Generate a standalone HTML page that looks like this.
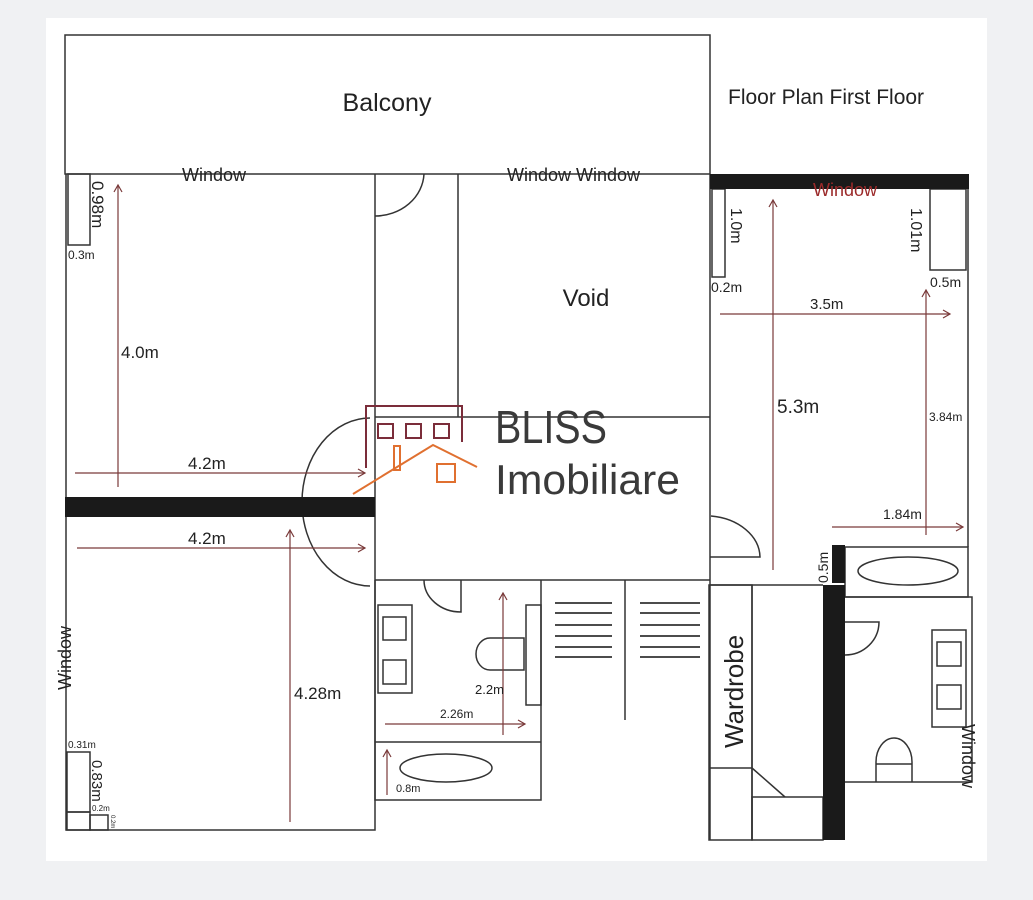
<!DOCTYPE html>
<html><head><meta charset="utf-8"><style>
html,body{margin:0;padding:0;background:#f0f1f3;}
svg{display:block;}
text{font-family:"Liberation Sans",sans-serif;}
</style></head><body>
<svg width="1033" height="900" viewBox="0 0 1033 900" xmlns="http://www.w3.org/2000/svg">
<defs>
<marker id="ah" markerWidth="10" markerHeight="10" refX="8" refY="5" orient="auto" markerUnits="userSpaceOnUse">
<path d="M1,1 L8,5 L1,9" fill="none" stroke="#7a3a3a" stroke-width="1.2"/>
</marker>
</defs>
<rect x="0" y="0" width="1033" height="900" fill="#f0f1f3"/>
<rect x="46" y="18" width="941" height="843" fill="#fff"/>
<g fill="none" stroke="#333" stroke-width="1.5">
<!-- balcony -->
<rect x="65" y="35" width="645" height="139"/>
<!-- left top room -->
<path d="M66,174 V830 H375 V174"/>
<rect x="68" y="174" width="22" height="71"/>
<line x1="458" y1="174" x2="458" y2="417"/>
<line x1="375" y1="417" x2="710" y2="417"/>
<line x1="375" y1="580" x2="710" y2="580"/>
<path d="M424,174 A49,44 0 0 1 375,216"/>
<path d="M370,418 A68,84 0 0 0 370,586"/>
<!-- bottom left small rects -->
<rect x="67" y="752" width="23" height="60"/>
<rect x="67" y="812" width="23" height="18"/>
<rect x="90" y="815" width="18" height="15"/>
<!-- bathroom 1 -->
<path d="M375,580 V800 H541 V580"/>
<path d="M424,580 A37,32 0 0 0 461,612 V580"/>
<rect x="378" y="605" width="34" height="88"/>
<rect x="383" y="617" width="23" height="23"/>
<rect x="383" y="660" width="23" height="24"/>
<rect x="526" y="605" width="15" height="100"/>
<path d="M508,638 H490 A14,16 0 0 0 490,670 H524 V638 Z"/>
<line x1="375" y1="742" x2="541" y2="742"/>
<ellipse cx="446" cy="768" rx="46" ry="14"/>
<!-- stairs -->
<g stroke-width="1.8">
<line x1="555" y1="603" x2="612" y2="603"/><line x1="555" y1="613" x2="612" y2="613"/><line x1="555" y1="625" x2="612" y2="625"/><line x1="555" y1="636" x2="612" y2="636"/><line x1="555" y1="647" x2="612" y2="647"/><line x1="555" y1="657" x2="612" y2="657"/>
<line x1="640" y1="603" x2="700" y2="603"/><line x1="640" y1="613" x2="700" y2="613"/><line x1="640" y1="625" x2="700" y2="625"/><line x1="640" y1="636" x2="700" y2="636"/><line x1="640" y1="647" x2="700" y2="647"/><line x1="640" y1="657" x2="700" y2="657"/>
</g>
<line x1="625" y1="580" x2="625" y2="720"/>
<!-- right room -->
<line x1="710" y1="174" x2="710" y2="840"/>
<line x1="968" y1="189" x2="968" y2="547"/>
<rect x="712" y="189" width="13" height="88"/>
<rect x="930" y="189" width="36" height="81"/>
<path d="M711,516 A55,42 0 0 1 760,557 H710"/>
<line x1="710" y1="585" x2="823" y2="585"/>
<!-- wardrobe -->
<rect x="709" y="585" width="43" height="255"/>
<line x1="752" y1="585" x2="752" y2="840"/>
<line x1="709" y1="768" x2="752" y2="768"/>
<line x1="752" y1="768" x2="785" y2="797"/>
<rect x="752" y="797" width="71" height="43"/>
<!-- bathroom 2 -->
<rect x="845" y="547" width="123" height="50"/>
<ellipse cx="908" cy="571" rx="50" ry="14"/>
<path d="M845,597 H972 V782 H845"/>
<path d="M845,622 H879 A34,33 0 0 1 845,655"/>
<rect x="932" y="630" width="34" height="97"/>
<rect x="937" y="642" width="24" height="24"/>
<rect x="937" y="685" width="24" height="24"/>
<path d="M876,782 V762 A18,24 0 0 1 912,762 V782"/>
<line x1="876" y1="764" x2="912" y2="764"/>
</g>
<!-- black walls -->
<rect x="65" y="497" width="310" height="20" fill="#1a1a1a"/>
<rect x="710" y="174" width="259" height="15" fill="#1a1a1a"/>
<rect x="832" y="545" width="13" height="38" fill="#1a1a1a"/>
<rect x="823" y="585" width="22" height="255" fill="#1a1a1a"/>
<!-- dimension arrows -->
<g stroke="#7a3a3a" stroke-width="1.2" fill="none" marker-end="url(#ah)">
<line x1="118" y1="487" x2="118" y2="185"/>
<line x1="75" y1="473" x2="365" y2="473"/>
<line x1="77" y1="548" x2="365" y2="548"/>
<line x1="290" y1="822" x2="290" y2="530"/>
<line x1="503" y1="735" x2="503" y2="593"/>
<line x1="385" y1="724" x2="525" y2="724"/>
<line x1="387" y1="795" x2="387" y2="750"/>
<line x1="773" y1="570" x2="773" y2="200"/>
<line x1="720" y1="314" x2="950" y2="314"/>
<line x1="926" y1="535" x2="926" y2="290"/>
<line x1="832" y1="527" x2="963" y2="527"/>
</g>
<!-- logo -->
<g fill="none" stroke="#7b2d3a" stroke-width="2">
<path d="M366,468 V406 H462 V442"/>
<rect x="378" y="424" width="15" height="14"/>
<rect x="406" y="424" width="15" height="14"/>
<rect x="434" y="424" width="15" height="14"/>
</g>
<g fill="none" stroke="#e07030" stroke-width="2">
<path d="M353,494 L433,445 L477,467"/>
<rect x="394" y="446" width="6" height="24"/>
<rect x="437" y="464" width="18" height="18"/>
</g>
<text x="495" y="443" font-size="46" fill="#3a3a3a" font-weight="300" textLength="112" lengthAdjust="spacingAndGlyphs">BLISS</text>
<text x="495" y="494" font-size="42" fill="#3a3a3a" textLength="185" lengthAdjust="spacingAndGlyphs">Imobiliare</text>
<!-- labels -->
<g fill="#222">
<text x="387" y="111" font-size="25" text-anchor="middle">Balcony</text>
<text x="728" y="104" font-size="21">Floor Plan First Floor</text>
<text x="214" y="181" font-size="18" text-anchor="middle">Window</text>
<text x="507" y="181" font-size="18">Window Window</text>
<text x="586" y="306" font-size="24" text-anchor="middle">Void</text>
<text x="121" y="358" font-size="17">4.0m</text>
<text x="188" y="469" font-size="17">4.2m</text>
<text x="188" y="544" font-size="17">4.2m</text>
<text x="294" y="699" font-size="17">4.28m</text>
<text x="68" y="259" font-size="12">0.3m</text>
<text transform="translate(92,181) rotate(90)" font-size="17">0.98m</text>
<text transform="translate(71,690) rotate(-90)" font-size="18">Window</text>
<text x="68" y="748" font-size="10">0.31m</text>
<text transform="translate(92,760) rotate(90)" font-size="15">0.83m</text>
<text x="92" y="811" font-size="8">0.2m</text>
<text transform="translate(111,815) rotate(90)" font-size="6">0.2m</text>
<text x="475" y="694" font-size="13">2.2m</text>
<text x="440" y="718" font-size="12">2.26m</text>
<text x="396" y="792" font-size="11">0.8m</text>
<text x="845" y="196" font-size="18" fill="#9b2a2a" text-anchor="middle">Window</text>
<text transform="translate(731,208) rotate(90)" font-size="16">1.0m</text>
<text x="711" y="292" font-size="14">0.2m</text>
<text transform="translate(911,208) rotate(90)" font-size="16">1.01m</text>
<text x="930" y="287" font-size="14">0.5m</text>
<text x="810" y="309" font-size="15">3.5m</text>
<text x="777" y="413" font-size="19">5.3m</text>
<text x="929" y="421" font-size="12">3.84m</text>
<text x="883" y="519" font-size="14">1.84m</text>
<text transform="translate(828,583) rotate(-90)" font-size="14">0.5m</text>
<text transform="translate(743,748) rotate(-90)" font-size="26">Wardrobe</text>
<text transform="translate(962,724) rotate(90)" font-size="18">Window</text>
</g>
</svg>
</body></html>
